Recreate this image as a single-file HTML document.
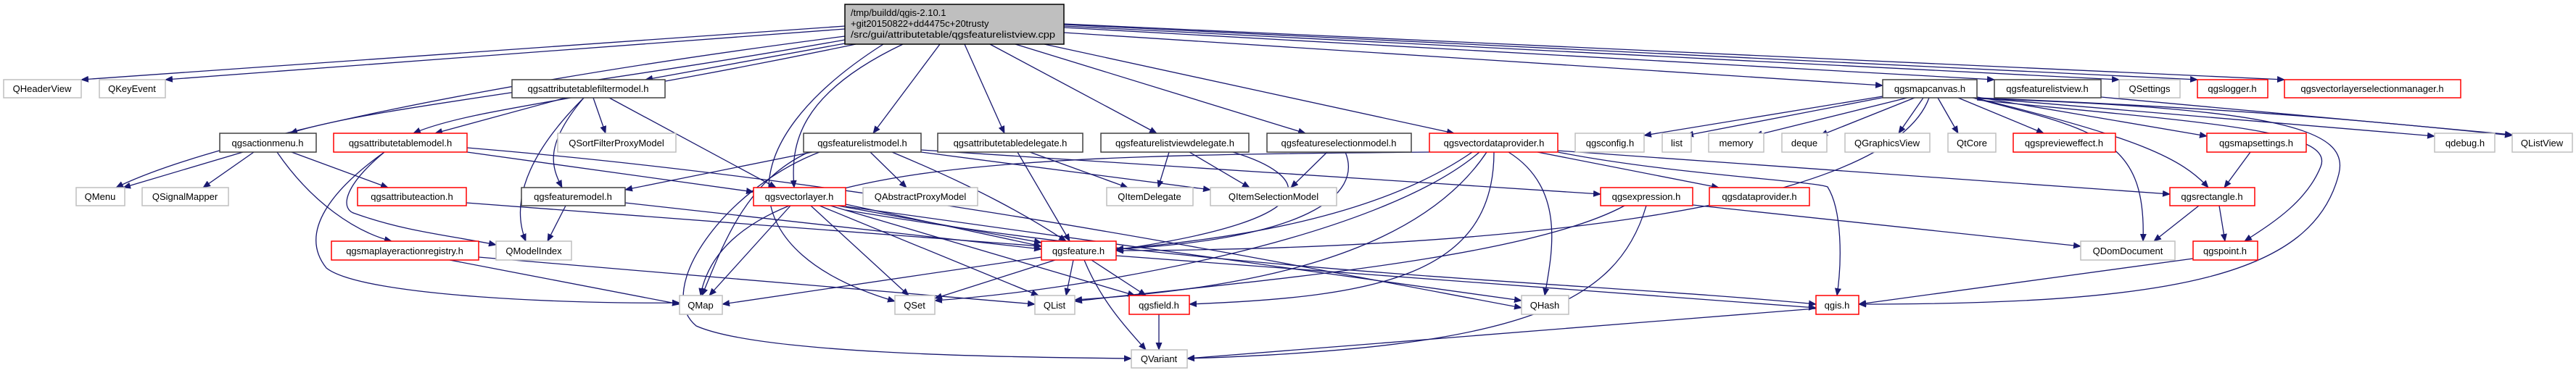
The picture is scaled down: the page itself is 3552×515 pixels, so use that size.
<!DOCTYPE html>
<html><head><meta charset="utf-8"><style>
html,body{margin:0;padding:0;background:#fff;}
svg{display:block;}
text{font-family:"Liberation Sans",sans-serif;font-size:13px;fill:#000;}
.e{fill:none;stroke:#191970;stroke-width:1.3;marker-end:url(#a);}
.g{fill:#fff;stroke:#bfbfbf;stroke-width:1.5;}
.r{fill:#fff;stroke:#ff0000;stroke-width:1.5;}
.b{fill:#fff;stroke:#404040;stroke-width:1.5;}
</style></head><body>
<svg width="3552" height="515" viewBox="0 0 3552 515" xmlns="http://www.w3.org/2000/svg">
<defs><marker id="a" markerWidth="11" markerHeight="9" refX="10" refY="4.5" orient="auto" markerUnits="userSpaceOnUse"><path d="M0,0 L11,4.5 L0,9 z" fill="#191970"/></marker></defs>
<g>
<path class="e" d="M1165,36 L112,110"/>
<path class="e" d="M1165,40 L228,110"/>
<path class="e" d="M1165,50 C700,110 300,190 160,259"/>
<path class="e" d="M1165,55 C800,120 500,150 400,184"/>
<path class="e" d="M1180,61 C800,140 650,150 570,184"/>
<path class="e" d="M1165,60 L890,110"/>
<path class="e" d="M1245,61 C1100,130 1090,200 1095,259"/>
<path class="e" d="M1218,61 C1000,200 1010,350 1234,416"/>
<path class="e" d="M1296,61 L1204,184"/>
<path class="e" d="M1330,61 L1385,184"/>
<path class="e" d="M1365,61 L1595,184"/>
<path class="e" d="M1400,61 L1800,184"/>
<path class="e" d="M1440,61 L2005,184"/>
<path class="e" d="M1467,45 L2596,118"/>
<path class="e" d="M1467,38 L2750,110"/>
<path class="e" d="M1467,36 L2922,110"/>
<path class="e" d="M1467,34 L3030,110"/>
<path class="e" d="M1467,33 L3150,110"/>
<path class="e" d="M780,135 L600,184"/>
<path class="e" d="M805,135 C740,200 700,270 725,333"/>
<path class="e" d="M818,135 L835,184"/>
<path class="e" d="M805,135 C750,200 760,230 775,259"/>
<path class="e" d="M840,135 L1070,259"/>
<path class="e" d="M335,210 L170,259"/>
<path class="e" d="M350,210 L280,259"/>
<path class="e" d="M402,210 L535,259"/>
<path class="e" d="M382,210 C430,280 490,320 540,333"/>
<path class="e" d="M530,210 C470,260 470,290 490,295 C560,320 620,325 684,338"/>
<path class="e" d="M530,210 C460,260 410,320 450,370 C500,410 800,420 937,418"/>
<path class="e" d="M644,210 L1039,265"/>
<path class="e" d="M644,204 C1200,250 1700,350 2098,425"/>
<path class="e" d="M643,280 L1436,340"/>
<path class="e" d="M780,284 L755,333"/>
<path class="e" d="M862,280 L1436,344"/>
<path class="e" d="M620,359 L937,420"/>
<path class="e" d="M660,355 L1427,420"/>
<path class="e" d="M1200,210 L1250,259"/>
<path class="e" d="M1230,210 C1350,260 1420,300 1470,333"/>
<path class="e" d="M1120,210 L862,262"/>
<path class="e" d="M1270,210 L1669,262"/>
<path class="e" d="M1270,207 L2207,268"/>
<path class="e" d="M1130,210 C1000,260 900,400 960,450 C1050,490 1400,493 1560,495"/>
<path class="e" d="M1115,210 C1030,250 1000,330 968,408"/>
<path class="e" d="M1403,210 L1475,333"/>
<path class="e" d="M1420,210 L1555,259"/>
<path class="e" d="M1612,210 L1597,259"/>
<path class="e" d="M1640,210 L1723,259"/>
<path class="e" d="M1700,210 C1800,240 1850,300 1539,345"/>
<path class="e" d="M1830,210 L1780,259"/>
<path class="e" d="M1855,210 C1880,270 1800,330 1539,344"/>
<path class="e" d="M1090,284 L978,408"/>
<path class="e" d="M1118,284 L1253,408"/>
<path class="e" d="M1130,284 L1432,408"/>
<path class="e" d="M1155,284 L1436,335"/>
<path class="e" d="M1166,282 L1436,340"/>
<path class="e" d="M1145,284 L1565,408"/>
<path class="e" d="M1166,285 L2098,415"/>
<path class="e" d="M1166,290 C1700,380 2200,390 2504,420"/>
<path class="e" d="M1971,210 C1400,215 1000,220 966,408"/>
<path class="e" d="M2040,210 C1900,330 1500,400 1289,415"/>
<path class="e" d="M2050,210 C1950,360 1700,400 1482,414"/>
<path class="e" d="M2030,210 C1900,300 1700,330 1539,344"/>
<path class="e" d="M2060,210 C2060,380 1900,410 1640,420"/>
<path class="e" d="M2080,210 C2160,260 2140,350 2130,408"/>
<path class="e" d="M2120,210 L2370,259"/>
<path class="e" d="M2148,210 C2300,240 2500,250 2520,258 C2540,290 2540,360 2533,408"/>
<path class="e" d="M2148,208 L2992,268"/>
<path class="e" d="M2240,284 C2100,360 1700,390 1482,416"/>
<path class="e" d="M2270,284 C2230,420 2100,480 1637,495"/>
<path class="e" d="M2334,283 L2869,340"/>
<path class="e" d="M1436,355 L996,420"/>
<path class="e" d="M1455,359 L1289,412"/>
<path class="e" d="M1480,359 L1470,408"/>
<path class="e" d="M1505,359 L1580,408"/>
<path class="e" d="M1495,359 C1520,420 1560,460 1580,483"/>
<path class="e" d="M1539,353 L2504,425"/>
<path class="e" d="M1598,434 L1598,483"/>
<path class="e" d="M2504,426 L1637,495"/>
<path class="e" d="M2660,135 C2600,300 2000,345 1539,346"/>
<path class="e" d="M2596,133 L2267,187"/>
<path class="e" d="M2600,134 L2325,187"/>
<path class="e" d="M2630,135 L2420,187"/>
<path class="e" d="M2640,135 L2510,187"/>
<path class="e" d="M2652,135 L2618,184"/>
<path class="e" d="M2672,135 L2700,184"/>
<path class="e" d="M2700,135 L2818,184"/>
<path class="e" d="M2720,135 C2890,180 2960,190 2955,333"/>
<path class="e" d="M2726,134 L3043,188"/>
<path class="e" d="M2726,136 C2950,190 3010,220 3045,259"/>
<path class="e" d="M2726,138 C3050,170 3220,180 3200,230 C3180,280 3130,310 3095,333"/>
<path class="e" d="M2726,135 L3357,188"/>
<path class="e" d="M2726,135 C3100,150 3300,170 3464,187"/>
<path class="e" d="M2726,136 C3150,150 3240,180 3225,240 C3190,380 3000,420 2563,420"/>
<path class="e" d="M2897,134 L3464,186"/>
<path class="e" d="M3103,210 L3067,259"/>
<path class="e" d="M3032,284 L2970,333"/>
<path class="e" d="M3060,284 L3068,333"/>
<path class="e" d="M3024,357 L2563,420"/>
</g>
<g>
<rect x="1165" y="6" width="302" height="55" fill="#bfbfbf" stroke="#000" stroke-width="1.5"/>
<text x="1173" y="22">/tmp/buildd/qgis-2.10.1</text>
<text x="1173" y="37">+git20150822+dd4475c+20trusty</text>
<text x="1173" y="52" textLength="282" lengthAdjust="spacingAndGlyphs">/src/gui/attributetable/qgsfeaturelistview.cpp</text>
</g>
<g text-anchor="middle">
<rect class="g" x="5" y="110" width="107" height="25"/><text x="58" y="127">QHeaderView</text>
<rect class="g" x="137" y="110" width="91" height="25"/><text x="182" y="127">QKeyEvent</text>
<rect class="b" x="706" y="110" width="211" height="25"/><text x="811" y="127">qgsattributetablefiltermodel.h</text>
<rect class="b" x="303" y="184" width="133" height="26"/><text x="369" y="202">qgsactionmenu.h</text>
<rect class="r" x="460" y="184" width="184" height="26"/><text x="552" y="202">qgsattributetablemodel.h</text>
<rect class="g" x="769" y="184" width="163" height="26"/><text x="850" y="202">QSortFilterProxyModel</text>
<rect class="g" x="105" y="259" width="67" height="25"/><text x="138" y="276">QMenu</text>
<rect class="g" x="196" y="259" width="119" height="25"/><text x="255" y="276">QSignalMapper</text>
<rect class="r" x="493" y="259" width="150" height="25"/><text x="568" y="276">qgsattributeaction.h</text>
<rect class="b" x="719" y="259" width="143" height="25"/><text x="790" y="276">qgsfeaturemodel.h</text>
<rect class="r" x="457" y="333" width="203" height="26"/><text x="558" y="351">qgsmaplayeractionregistry.h</text>
<rect class="g" x="684" y="333" width="104" height="26"/><text x="736" y="351">QModelIndex</text>
<rect class="b" x="1108" y="184" width="162" height="26"/><text x="1189" y="202">qgsfeaturelistmodel.h</text>
<rect class="b" x="1293" y="184" width="200" height="26"/><text x="1393" y="202">qgsattributetabledelegate.h</text>
<rect class="b" x="1518" y="184" width="204" height="26"/><text x="1620" y="202">qgsfeaturelistviewdelegate.h</text>
<rect class="b" x="1747" y="184" width="199" height="26"/><text x="1846" y="202">qgsfeatureselectionmodel.h</text>
<rect class="r" x="1039" y="259" width="127" height="25"/><text x="1102" y="276">qgsvectorlayer.h</text>
<rect class="g" x="1190" y="259" width="158" height="25"/><text x="1269" y="276">QAbstractProxyModel</text>
<rect class="g" x="1526" y="259" width="119" height="25"/><text x="1585" y="276">QItemDelegate</text>
<rect class="g" x="1669" y="259" width="174" height="25"/><text x="1756" y="276">QItemSelectionModel</text>
<rect class="r" x="1436" y="333" width="103" height="26"/><text x="1487" y="351">qgsfeature.h</text>
<rect class="g" x="937" y="408" width="59" height="26"/><text x="966" y="426">QMap</text>
<rect class="g" x="1234" y="408" width="55" height="26"/><text x="1261" y="426">QSet</text>
<rect class="g" x="1427" y="408" width="55" height="26"/><text x="1454" y="426">QList</text>
<rect class="r" x="1557" y="408" width="83" height="26"/><text x="1598" y="426">qgsfield.h</text>
<rect class="g" x="1560" y="483" width="77" height="25"/><text x="1598" y="500">QVariant</text>
<rect class="r" x="1971" y="184" width="177" height="26"/><text x="2060" y="202">qgsvectordataprovider.h</text>
<rect class="g" x="2172" y="184" width="95" height="26"/><text x="2220" y="202">qgsconfig.h</text>
<rect class="g" x="2292" y="184" width="40" height="26"/><text x="2312" y="202">list</text>
<rect class="g" x="2356" y="184" width="76" height="26"/><text x="2394" y="202">memory</text>
<rect class="g" x="2457" y="184" width="62" height="26"/><text x="2488" y="202">deque</text>
<rect class="g" x="2544" y="184" width="117" height="26"/><text x="2602" y="202">QGraphicsView</text>
<rect class="g" x="2686" y="184" width="66" height="26"/><text x="2719" y="202">QtCore</text>
<rect class="b" x="2596" y="110" width="130" height="25"/><text x="2661" y="127">qgsmapcanvas.h</text>
<rect class="r" x="2207" y="259" width="127" height="25"/><text x="2270" y="276">qgsexpression.h</text>
<rect class="r" x="2357" y="259" width="138" height="25"/><text x="2426" y="276">qgsdataprovider.h</text>
<rect class="g" x="2098" y="408" width="65" height="26"/><text x="2130" y="426">QHash</text>
<rect class="r" x="2504" y="408" width="59" height="26"/><text x="2533" y="426">qgis.h</text>
<rect class="b" x="2750" y="110" width="147" height="25"/><text x="2823" y="127">qgsfeaturelistview.h</text>
<rect class="g" x="2922" y="110" width="84" height="25"/><text x="2964" y="127">QSettings</text>
<rect class="r" x="3030" y="110" width="97" height="25"/><text x="3078" y="127">qgslogger.h</text>
<rect class="r" x="3150" y="110" width="243" height="25"/><text x="3271" y="127">qgsvectorlayerselectionmanager.h</text>
<rect class="r" x="2776" y="184" width="141" height="26"/><text x="2846" y="202">qgspreviewеffect.h</text>
<rect class="r" x="3043" y="184" width="137" height="26"/><text x="3111" y="202">qgsmapsettings.h</text>
<rect class="g" x="3357" y="184" width="83" height="26"/><text x="3399" y="202">qdebug.h</text>
<rect class="g" x="3464" y="184" width="83" height="26"/><text x="3505" y="202">QListView</text>
<rect class="r" x="2992" y="259" width="117" height="25"/><text x="3050" y="276">qgsrectangle.h</text>
<rect class="g" x="2869" y="333" width="130" height="26"/><text x="2934" y="351">QDomDocument</text>
<rect class="r" x="3024" y="333" width="89" height="26"/><text x="3068" y="351">qgspoint.h</text>
</g>
</svg>
</body></html>
